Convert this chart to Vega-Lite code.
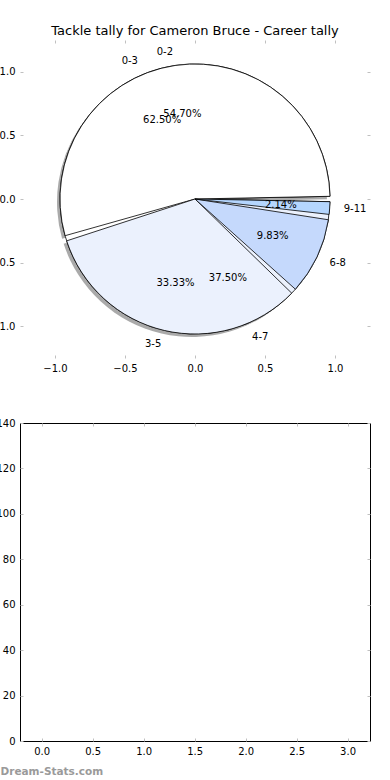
{
  "$schema": "https://vega.github.io/schema/vega-lite/v6.json",
  "padding": {"left": -10, "top": 24, "right": 0, "bottom": 0},
  "config": {
    "font": "DejaVu Sans",
    "view": {"stroke": null},
    "axis": {
      "grid": false, "domain": false, "tickColor": "#c0c0c0", "tickSize": -3, "tickWidth": 1,
      "labelPadding": 8, "labelFont": "DejaVu Sans", "labelFontSize": 10, "labelColor": "black",
      "labelFlush": false, "labelOverlap": false, "labelBound": false
    }
  },
  "data": {"values": [
    {"pie": "A", "range": "0-3", "share": 0.625},
    {"pie": "A", "range": "4-7", "share": 0.375},
    {"pie": "B", "range": "0-2", "share": 0.547},
    {"pie": "B", "range": "3-5", "share": 0.3333},
    {"pie": "B", "range": "6-8", "share": 0.0983},
    {"pie": "B", "range": "9-11", "share": 0.0214}
  ]},
  "spacing": 39,
  "vconcat": [
    {
      "width": 350, "height": 318,
      "title": {"text": "Tackle tally for Cameron Bruce - Career tally", "fontSize": 13, "fontWeight": "normal", "font": "DejaVu Sans", "offset": 2},
      "layer": [
        {"mark": {"type": "point", "opacity": 0},
         "encoding": {
           "x": {"datum": 0, "type": "quantitative", "scale": {"domain": [-1.25, 1.25], "nice": false, "zero": false},
                 "axis": {"orient": "bottom", "values": [-1, -0.5, 0, 0.5, 1], "format": ".1f", "title": null, "minExtent": 20, "maxExtent": 20}},
           "y": {"datum": 0, "type": "quantitative", "scale": {"domain": [-1.25, 1.25], "nice": false, "zero": false},
                 "axis": {"orient": "left", "values": [-1, -0.5, 0, 0.5, 1], "format": ".1f", "title": null, "minExtent": 25, "maxExtent": 25}}
         }},
        {"mark": {"type": "point", "opacity": 0},
         "encoding": {
           "x": {"datum": 0, "type": "quantitative", "axis": {"orient": "top", "values": [-1, -0.5, 0, 0.5, 1], "labels": false, "title": null, "minExtent": 0, "maxExtent": 0}},
           "y": {"datum": 0, "type": "quantitative", "axis": {"orient": "right", "values": [-1, -0.5, 0, 0.5, 1], "labels": false, "title": null, "minExtent": 0, "maxExtent": 0}}
         }},
        {"transform": [{"filter": "datum.pie == 'B'"}],
         "mark": {"type": "arc", "radius": 135, "padAngle": 0.04, "fill": "#555555", "opacity": 0.5, "xOffset": -3, "yOffset": 3},
         "encoding": {
           "theta": {"field": "share", "type": "quantitative", "stack": true, "scale": {"domain": [0, 1], "range": [1.5708, -4.7124]}},
           "order": {"field": "range", "type": "ordinal"}
         }},
        {"transform": [{"filter": "datum.pie == 'A'"}],
         "mark": {"type": "arc", "radius": 135, "padAngle": 0.04, "stroke": "black", "strokeWidth": 0.8},
         "encoding": {
           "theta": {"field": "share", "type": "quantitative", "stack": true, "scale": {"domain": [0, 1], "range": [1.5708, -4.7124]}},
           "order": {"field": "range", "type": "ordinal"},
           "color": {"field": "range", "type": "nominal", "legend": null,
                     "scale": {"domain": ["0-3", "4-7", "0-2", "3-5", "6-8", "9-11"], "range": ["#ffffff", "#ebf1fd", "#ffffff", "#ebf1fd", "#c5d9fc", "#b5d6fe"]}}
         }},
        {"transform": [{"filter": "datum.pie == 'B'"}],
         "mark": {"type": "arc", "radius": 135, "padAngle": 0.04, "stroke": "black", "strokeWidth": 0.8},
         "encoding": {
           "theta": {"field": "share", "type": "quantitative", "stack": true, "scale": {"domain": [0, 1], "range": [1.5708, -4.7124]}},
           "order": {"field": "range", "type": "ordinal"},
           "color": {"field": "range", "type": "nominal", "legend": null}
         }},
        {"transform": [{"filter": "datum.pie == 'A'"}],
         "mark": {"type": "text", "radius": 149, "fontSize": 10, "font": "DejaVu Sans",
                  "align": {"expr": "cos(PI * (datum.share_start + datum.share_end)) > 0 ? 'left' : 'right'"}},
         "encoding": {
           "theta": {"field": "share", "type": "quantitative", "stack": true, "scale": {"domain": [0, 1], "range": [1.5708, -4.7124]}},
           "order": {"field": "range", "type": "ordinal"},
           "text": {"field": "range"}
         }},
        {"transform": [{"filter": "datum.pie == 'B'"}],
         "mark": {"type": "text", "radius": 149, "fontSize": 10, "font": "DejaVu Sans",
                  "align": {"expr": "cos(PI * (datum.share_start + datum.share_end)) > 0 ? 'left' : 'right'"}},
         "encoding": {
           "theta": {"field": "share", "type": "quantitative", "stack": true, "scale": {"domain": [0, 1], "range": [1.5708, -4.7124]}},
           "order": {"field": "range", "type": "ordinal"},
           "text": {"field": "range"}
         }},
        {"transform": [{"filter": "datum.pie == 'A'"}],
         "mark": {"type": "text", "radius": 86, "fontSize": 10, "font": "DejaVu Sans"},
         "encoding": {
           "theta": {"field": "share", "type": "quantitative", "stack": true, "scale": {"domain": [0, 1], "range": [1.5708, -4.7124]}},
           "order": {"field": "range", "type": "ordinal"},
           "text": {"field": "share", "type": "quantitative", "format": ".2%"}
         }},
        {"transform": [{"filter": "datum.pie == 'B'"}],
         "mark": {"type": "text", "radius": 86, "fontSize": 10, "font": "DejaVu Sans"},
         "encoding": {
           "theta": {"field": "share", "type": "quantitative", "stack": true, "scale": {"domain": [0, 1], "range": [1.5708, -4.7124]}},
           "order": {"field": "range", "type": "ordinal"},
           "text": {"field": "share", "type": "quantitative", "format": ".2%"}
         }}
      ]
    },
    {
      "width": 350, "height": 318,
      "view": {"stroke": "black", "strokeWidth": 1},
      "layer": [
        {"mark": {"type": "point", "opacity": 0},
         "encoding": {
           "x": {"datum": 0, "type": "quantitative", "scale": {"domain": [-0.213, 3.22], "nice": false, "zero": false},
                 "axis": {"orient": "bottom", "values": [0, 0.5, 1, 1.5, 2, 2.5, 3], "format": ".1f",
                          "title": "Dream-Stats.com", "titleX": -20, "titleY": 30, "titleAlign": "left", "titleAnchor": "start", "titleBaseline": "middle",
                          "titleColor": "#9a9a9a", "titleFontSize": 10.5, "titleFontWeight": "bold", "titleFont": "DejaVu Sans"}},
           "y": {"datum": 0, "type": "quantitative", "scale": {"domain": [0, 140], "nice": false, "zero": false},
                 "axis": {"orient": "left", "values": [0, 20, 40, 60, 80, 100, 120, 140], "title": null, "minExtent": 25, "maxExtent": 25}}
         }},
        {"mark": {"type": "point", "opacity": 0},
         "encoding": {
           "x": {"datum": 0, "type": "quantitative", "axis": {"orient": "top", "values": [0, 0.5, 1, 1.5, 2, 2.5, 3], "labels": false, "title": null, "minExtent": 0, "maxExtent": 0}},
           "y": {"datum": 0, "type": "quantitative", "axis": {"orient": "right", "values": [0, 20, 40, 60, 80, 100, 120, 140], "labels": false, "title": null, "minExtent": 0, "maxExtent": 0}}
         }}
      ]
    }
  ]
}
